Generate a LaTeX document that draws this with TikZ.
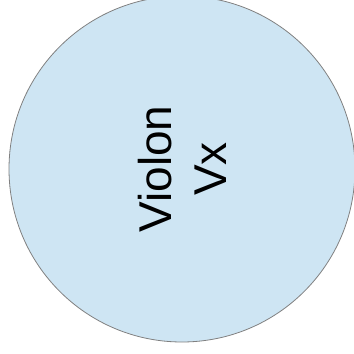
\documentclass[tikz,border=0pt]{standalone}
\usepackage{fontspec}
\setmainfont{Liberation Sans}
\definecolor{cfill}{RGB}{206,229,243}
\definecolor{cline}{RGB}{128,128,128}
\tikzset{ball/.style={circle, draw=cline, fill=cfill, line width=0.8pt, minimum size=346pt, inner sep=0pt, align=center, font=\fontsize{46}{55}\selectfont}}
\begin{document}
\begin{tikzpicture}[x=1pt,y=-1pt]
\useasboundingbox (0,0) rectangle (354,354);
\node[ball, rotate=90] (c) at (182,169) {Violon\\Vx};
\end{tikzpicture}
\end{document}
